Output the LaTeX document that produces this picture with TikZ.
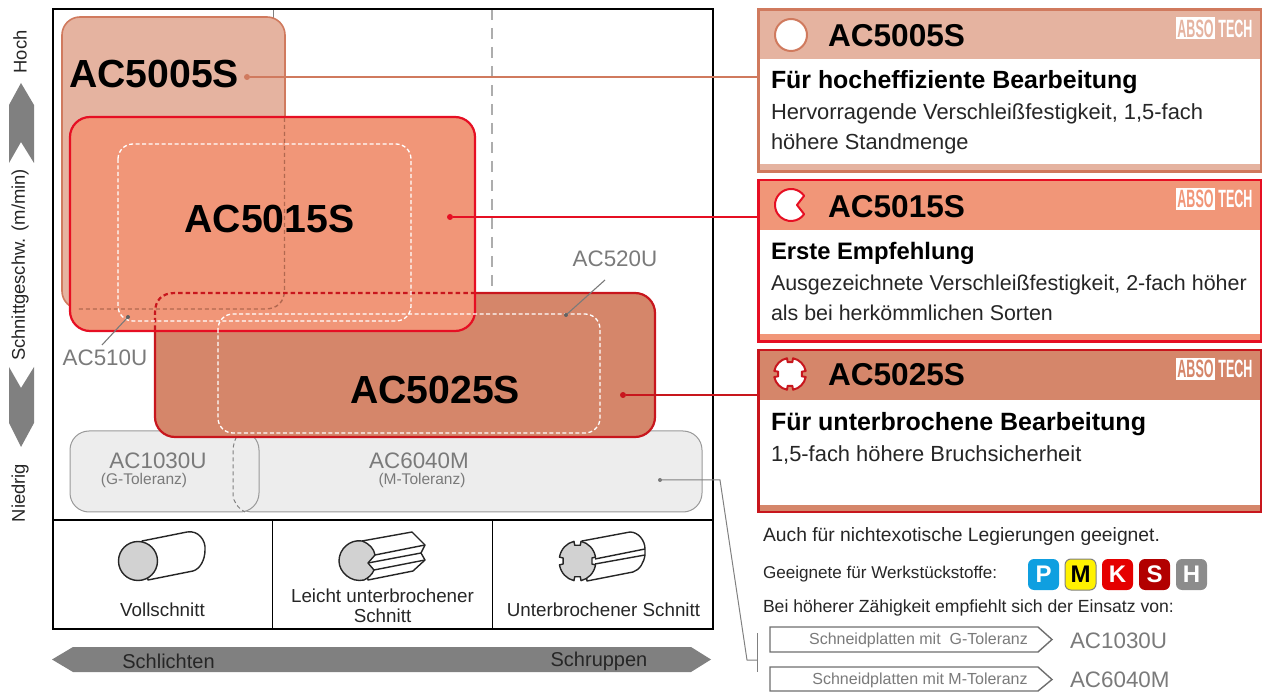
\documentclass[tikz,border=0pt]{standalone}
\usepackage{fontspec}
\usepackage{graphicx}
\setmainfont{Liberation Sans}
\definecolor{c5}{HTML}{E5B3A0}
\definecolor{c5b}{HTML}{D07A5E}
\definecolor{c15}{HTML}{F19678}
\definecolor{c15b}{HTML}{E60F23}
\definecolor{c25}{HTML}{D5866A}
\definecolor{c25b}{HTML}{C8161D}
\definecolor{gt}{HTML}{7A7A7A}
\definecolor{ga}{HTML}{808080}
\definecolor{gf}{HTML}{EDEDED}
\definecolor{gl}{HTML}{999999}
\definecolor{bt}{HTML}{262626}
\definecolor{bP}{HTML}{0F9FE0}
\newcommand{\fs}[1]{\fontsize{#1}{#1}\selectfont}
\newcommand{\pbox}[6]{\node[#6,minimum width={(#4-#2)*1pt},minimum height={(#5-#3)*1pt}] (#1) at ({(#2+#4)/2},{(#3+#5)/2}) {};}
\newcommand{\callout}[7]{%
 \pbox{#1}{758.5}{#2}{1261}{#3}{rr,fill=white}
 \fill[#5] (759,{#2+1}) rectangle (1260,{#2+50});
 \fill[#5] (759,{#3-7}) rectangle (1260,{#3-1});
 \draw[#6,line width=2.2pt] (#1.north west) rectangle (#1.south east);
 \node[blk] (#1t) at (828,#7) {\fs{31.6}\bfseries #4};
 \node[rr,fill=white,text=#5,minimum width=39pt,minimum height=22pt] (#1a) at (1195.5,{#2+19}) {\scalebox{.5}[1]{\fs{25}\bfseries ABSO}};
 \node[rr,text=white] (#1b) at (1235.5,{#2+19}) {\scalebox{.5}[1]{\fs{25}\bfseries TECH}};
}
\newcommand{\notched}[4]{%
 \draw[#4] (#1,#2) ++(11:#3) \foreach \a in {0,90,180,270}{
   arc[start angle=\a+11,end angle=\a+79,radius=#3]
   -- ([shift={(#1,#2)}]\a+79:#3-4) -- ([shift={(#1,#2)}]\a+101:#3-4) -- ([shift={(#1,#2)}]\a+101:#3)
 } -- cycle;
}
\tikzset{
 blk/.style={anchor=base west,inner sep=0pt,outer sep=0pt},
 ctr/.style={anchor=center,inner sep=0pt,outer sep=0pt,align=center},
 dotc/.style={circle,inner sep=0pt,minimum size=6pt},
 arr/.style={fill=ga,draw=none},
 badge/.style={rounded corners=6pt,inner sep=0pt,outer sep=0pt,text=white},
 rr/.style={inner sep=0pt,outer sep=0pt,rectangle},
 pbar/.style={draw=gt!90!black,line width=1.4pt,fill=white},
 cyl/.style={draw=black!85,line width=1.4pt,line join=round},
 wdash/.style={white,line width=1.3pt,dash pattern=on 4pt off 2.5pt,rounded corners=15pt},
}
\begin{document}
\begin{tikzpicture}[x=1pt,y=-1pt]
\useasboundingbox (0,0) rectangle (1262,692);
% grid
\draw[gray,line width=.8pt] (273,9) -- (273,20);
\draw[gl!80,line width=1.1pt,dash pattern=on 11pt off 8pt] (492,9) -- (492,290);
% arrows
\fill[arr] (21,83) -- (34,105) -- (34,163) -- (21,142) -- (9,163) -- (9,105) -- cycle;
\fill[arr] (21,447) -- (34,423) -- (34,367) -- (21,388) -- (9,367) -- (9,423) -- cycle;
\fill[arr] (52,659.5) -- (73,647) -- (691,647) -- (711,659.5) -- (691,672) -- (73,672) -- cycle;
\node[ctr,rotate=90,text=bt] (hoch) at (20,52) {\fs{18.4}Hoch};
\node[ctr,rotate=90,text=bt] (sgw) at (20,265) {\fs{18.4}Schnittgeschw. (m/min)};
\node[ctr,rotate=90,text=bt] (nied) at (20,493) {\fs{18.4}Niedrig};
\node[ctr,text=bt] (schl) at (168.5,661) {\fs{20}Schlichten};
\node[ctr,text=bt] (schr) at (599,661) {\fs{20}Schruppen};
% grey boxes
\pbox{g2}{233}{431}{702}{512}{rr,draw=gl,line width=1pt,fill=gf,rounded corners=19pt}
\pbox{g1}{70}{431}{259}{512}{rr,draw=gl,line width=1pt,fill=gf,rounded corners=19pt}
\draw[gray,line width=1pt,dash pattern=on 4pt off 3pt] (240,431) .. controls (235,438) and (233,444) .. (233,452) -- (233,494) .. controls (233,502) and (238,508) .. (245,512);
\node[ctr,text=gt] (g1a) at (158,461) {\fs{22.4}AC1030U};
\node[ctr,text=gt] (g1b) at (144,480) {\fs{15.5}(G-Toleranz)};
\node[ctr,text=gt] (g2a) at (419,461) {\fs{22.4}AC6040M};
\node[ctr,text=gt] (g2b) at (422,480) {\fs{15.5}(M-Toleranz)};
% main boxes
\pbox{b5}{62}{17}{285}{309}{rr,draw=c5b,line width=1.6pt,fill=c5,rounded corners=18pt}
\pbox{b25}{155}{293}{655}{437}{rr,draw=c25b,line width=2.2pt,fill=c25,rounded corners=20pt}
\pbox{b15}{70}{117}{475}{331}{rr,draw=c15b,line width=2.2pt,fill=c15,rounded corners=20pt}
% see-through outlines
\draw[c5b!85!black,line width=1.4pt,dash pattern=on 4pt off 3pt] (284.5,118) -- (284.5,290) .. controls (284.5,302) and (277,309) .. (265,309) -- (76,309);
\draw[c25b,line width=2.2pt,dash pattern=on 4.5pt off 3pt] (155,330) -- (155,313) .. controls (155,300) and (162,293) .. (175,293) -- (474,293);
\draw[wdash] (118,144) rectangle (411,321);
\draw[wdash] (218,314) rectangle (600,433);
% labels
\node[ctr] (t5) at (154,74) {\fs{39.2}\bfseries AC5005S};
\node[ctr] (t15) at (269.5,219) {\fs{39.2}\bfseries AC5015S};
\node[ctr] (t25) at (435,390) {\fs{39.2}\bfseries AC5025S};
\node[ctr,text=gt] (l520) at (615,259) {\fs{22.4}AC520U};
\node[ctr,text=gt] (l510) at (105,358) {\fs{22.4}AC510U};
\coordinate (p520) at (566,315); \coordinate (p510) at (128,317);
\draw[gt,line width=1.1pt] (l520) ++(-10,21) -- (p520);
\fill[gt!80!black] (p520) circle (2pt);
\draw[gt,line width=1.1pt] (p510) -- (102,345);
\fill[gt!80!black] (p510) circle (2pt);
% frame
\draw[black,line width=2.2pt] (53,9) rectangle (713,629);
\draw[black,line width=2.2pt] (53,520) -- (713,520);
\draw[black,line width=1.3pt] (272.5,520) -- (272.5,629);
\draw[black,line width=1.3pt] (492.5,520) -- (492.5,629);
% cell labels
\node[ctr,text=bt] (c1) at (162.5,610) {\fs{18.8}Vollschnitt};
\node[ctr,text=bt] (c2a) at (382.5,596) {\fs{18.8}Leicht unterbrochener};
\node[ctr,text=bt] (c2b) at (382.5,616) {\fs{18.8}Schnitt};
\node[ctr,text=bt] (c3) at (603.5,610) {\fs{18.8}Unterbrochener Schnitt};
% cylinder 1
\draw[cyl,fill=white] (142,541) -- (187,532) .. controls (198,530) and (206,540) .. (205,550) .. controls (205,560) and (200,569) .. (193,571) -- (148,580) -- cycle;
\draw[cyl,fill=gray!35] (138,561) circle (19.5);
% cylinder 2
\draw[cyl,fill=white] (362,541) -- (412,532) -- (425,545) -- (421,553) -- (425,560) -- (413,571) -- (368,580) -- cycle;
\draw[cyl] (375,555) -- (425,545) (368,563) -- (421,553) (374,570) -- (425,560);
\draw[cyl,fill=gray!35] (362,541) .. controls (370,544) and (374,549) .. (375,555) -- (368,563) -- (374,570) .. controls (372,575) and (368,578) .. (364,580) .. controls (351,583) and (339,572) .. (339,561) .. controls (339,549) and (350,539) .. (362,541) -- cycle;
% cylinder 3
\draw[cyl,fill=white] (582,541) -- (630,532) .. controls (638,532) and (645,540) .. (645,549) -- (645,555) .. controls (644,562) and (640,570) .. (633,572) -- (587,581) -- cycle;
\draw[cyl] (595,559) -- (645,549) (595,564) -- (645,555);
\begin{scope}[shift={(577.5,561)},xscale=.92]
\notched{0}{0}{20}{cyl,fill=gray!35}
\end{scope}
% callouts
\callout{k1}{9.5}{171.5}{AC5005S}{c5}{c5b}{47}
\callout{k2}{180}{341.5}{AC5015S}{c15}{c15b}{218}
\callout{k3}{350}{512}{AC5025S}{c25}{c25b}{386}
\draw[c5b,line width=2pt,fill=white] (791,35) circle (16);
\draw[c15b,line width=2pt,fill=white,line join=round] (791,205) ++(-35:16) arc[start angle=-35,end angle=-325,radius=16] -- (797,205) -- cycle;
\notched{790}{374}{16}{c25b,line width=2pt,fill=white,line join=round}
\node[blk,text=black] (h1) at (771,89) {\fs{24.9}\bfseries Für hocheffiziente Bearbeitung};
\node[blk,text=bt] (p1a) at (771,120) {\fs{21.9}Hervorragende Verschleißfestigkeit, 1,5-fach};
\node[blk,text=bt] (p1b) at (771,150) {\fs{21.8}höhere Standmenge};
\node[blk,text=black] (h2) at (771,260) {\fs{23.8}\bfseries Erste Empfehlung};
\node[blk,text=bt] (p2a) at (771,291) {\fs{21.45}Ausgezeichnete Verschleißfestigkeit, 2-fach höher};
\node[blk,text=bt] (p2b) at (771,321) {\fs{21.4}als bei herkömmlichen Sorten};
\node[blk,text=black] (h3) at (771,431) {\fs{25}\bfseries Für unterbrochene Bearbeitung};
\node[blk,text=bt] (p3a) at (771,462) {\fs{21.9}1,5-fach höhere Bruchsicherheit};
% connectors
\node[dotc,fill=c5b] (d5) at (247,77) {};
\node[dotc,fill=c15b] (d15) at (450,217) {};
\node[dotc,fill=c25b] (d25) at (623,395) {};
\draw[c5b,line width=1.8pt] (d5) -- (d5 -| k1.west);
\draw[c15b,line width=1.8pt] (d15) -- (d15 -| k2.west);
\draw[c25b,line width=1.8pt] (d25) -- (d25 -| k3.west);
% lower right
\node[blk,text=bt] (u1) at (763,541) {\fs{19.3}Auch für nichtexotische Legierungen geeignet.};
\node[blk,text=bt] (u2) at (763,578) {\fs{17.1}Geeignete für Werkstückstoffe:};
\node[blk,text=bt] (u3) at (763,612) {\fs{17.6}Bei höherer Zähigkeit empfiehlt sich der Einsatz von:};
\pbox{bp}{1028}{559}{1059}{590}{badge,fill=bP}
\node[ctr,text=white] (bpt) at (bp) {\fs{24}\bfseries P};
\pbox{bm}{1065}{559}{1096}{590}{badge,fill=yellow,draw=gray,line width=1pt}
\node[ctr,text=black] (bmt) at (bm) {\fs{24}\bfseries M};
\pbox{bk}{1102}{559}{1133}{590}{badge,fill=red!90!black}
\node[ctr,text=white] (bkt) at (bk) {\fs{24}\bfseries K};
\pbox{bs}{1139}{559}{1170}{590}{badge,fill=red!70!black}
\node[ctr,text=white] (bst) at (bs) {\fs{24}\bfseries S};
\pbox{bh}{1176}{559}{1207}{590}{badge,fill=gray!90}
\node[ctr,text=white] (bht) at (bh) {\fs{24}\bfseries H};
\draw[pbar] (770,627) -- (1038,627) -- (1052,639.5) -- (1038,652) -- (770,652) -- cycle;
\draw[pbar] (770,667) -- (1038,667) -- (1052,679.5) -- (1038,691) -- (770,691) -- cycle;
\node[ctr,text=gt] (t1) at (918.5,640) {\fs{16}Schneidplatten mit\ \ G-Toleranz};
\node[ctr,text=gt] (t2) at (920,680) {\fs{16}Schneidplatten mit M-Toleranz};
\node[blk,text=gt] (a1) at (1070,648) {\fs{22.4}AC1030U};
\node[blk,text=gt] (a2) at (1070,687) {\fs{22.4}AC6040M};
% bracket
\coordinate (dg) at (660,480);
\fill[gt] (dg) circle (2pt);
\draw[gray,line width=1pt] (dg) -- (720,480) -- (747,660) -- (757,660);
\draw[gray,line width=1pt] (757,633) -- (757,672);
\end{tikzpicture}
\end{document}
